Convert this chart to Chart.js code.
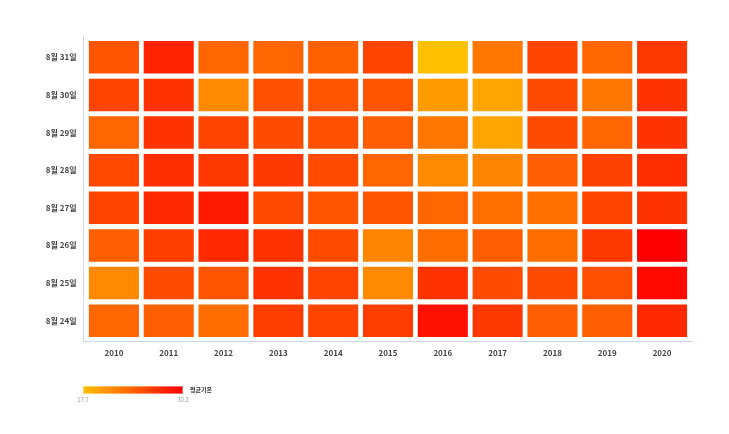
<!DOCTYPE html>
<html>
<head>
<meta charset="utf-8">
<script src="https://cdn.jsdelivr.net/npm/chart.js@4"></script>
<style>
html,body{margin:0;padding:0;background:#fff;}
#wrap{width:729px;height:434px;position:relative;}
</style>
</head>
<body>
<div id="wrap"><canvas id="c" width="729" height="434"></canvas></div>
<script>
const years = ['2010','2011','2012','2013','2014','2015','2016','2017','2018','2019','2020'];
const dates = ['8월 24일','8월 25일','8월 26일','8월 27일','8월 28일','8월 29일','8월 30일','8월 31일'];
const t0824 = [23.6, 24.0, 23.1, 26.2, 25.8, 26.2, 29.1, 26.6, 24.1, 24.0, 27.5];
const t0825 = [21.3, 25.3, 24.7, 26.9, 25.8, 21.3, 26.9, 25.3, 25.3, 25.0, 29.7];
const t0826 = [24.0, 26.2, 27.5, 26.9, 25.3, 21.6, 23.1, 24.1, 23.1, 26.6, 30.2];
const t0827 = [25.8, 27.5, 28.5, 25.5, 24.7, 24.7, 23.6, 22.9, 22.9, 25.8, 26.9];
const t0828 = [25.5, 27.3, 26.6, 26.6, 25.3, 23.6, 21.3, 21.6, 24.0, 26.0, 27.3];
const t0829 = [23.6, 26.9, 25.8, 25.3, 25.0, 24.1, 22.5, 19.5, 25.3, 23.6, 26.9];
const t0830 = [25.8, 26.9, 21.3, 25.0, 24.7, 24.7, 20.2, 19.5, 25.3, 22.5, 26.9];
const t0831 = [24.7, 28.0, 23.6, 23.6, 23.9, 25.8, 17.7, 22.5, 25.8, 23.6, 26.6];
const rows = [t0824, t0825, t0826, t0827, t0828, t0829, t0830, t0831];
const minT = 17.7, maxT = 30.2;
const legendTitle = '평균기온';

function tempColor(v){
  let t = (v - minT) / (maxT - minT);
  t = Math.max(0, Math.min(1, t));
  const g = Math.round(192 * (1 - t));
  return 'rgb(255,' + g + ',0)';
}

const inset = 0.04;
const datasets = rows.map((vals, i) => ({
  label: dates[i],
  data: vals.map(() => [i + inset, i + 1 - inset]),
  temps: vals,
  backgroundColor: vals.map(tempColor),
  borderColor: 'rgba(255,255,255,0.45)',
  borderWidth: 1,
  borderSkipped: false,
  grouped: false,
  barPercentage: 0.95,
  categoryPercentage: 1
}));

const FONT = "'Noto Sans CJK KR', 'Noto Sans', sans-serif";

const decor = {
  id: 'decor',
  afterDraw(chart){
    const ctx = chart.ctx;
    const a = chart.chartArea;
    ctx.save();
    ctx.strokeStyle = '#ccd6eb';
    ctx.lineWidth = 1;
    ctx.beginPath();
    ctx.moveTo(83.5, a.top - 2.5);
    ctx.lineTo(83.5, a.bottom + 2.5);
    ctx.moveTo(83, a.bottom + 2);
    ctx.lineTo(a.right + 3.5, a.bottom + 2);
    ctx.stroke();
    // color legend
    const lx = 83, ly = 386, lw = 100, lh = 8;
    const grad = ctx.createLinearGradient(lx, 0, lx + lw, 0);
    grad.addColorStop(0, tempColor(minT));
    grad.addColorStop(1, tempColor(maxT));
    ctx.fillStyle = grad;
    ctx.fillRect(lx, ly, lw, lh);
    ctx.strokeStyle = 'rgba(255,255,255,0.4)';
    ctx.strokeRect(lx + 0.5, ly + 0.5, lw - 1, lh - 1);
    ctx.fillStyle = '#333';
    ctx.font = 'bold 6px ' + FONT;
    ctx.textAlign = 'left';
    ctx.textBaseline = 'middle';
    ctx.fillText(legendTitle, lx + lw + 7, ly + lh / 2);
    ctx.fillStyle = '#999';
    ctx.font = '6px ' + FONT;
    ctx.textAlign = 'center';
    ctx.fillText(String(minT), lx, 399.5);
    ctx.fillText(String(maxT), lx + lw, 399.5);
    ctx.restore();
  }
};

new Chart(document.getElementById('c'), {
  type: 'bar',
  data: { labels: years, datasets: datasets },
  options: {
    responsive: false,
    animation: false,
    layout: { padding: { top: 38.5, right: 39.5, bottom: 64.5, left: 0 } },
    plugins: {
      legend: { display: false },
      tooltip: {
        callbacks: {
          label: (c) => c.dataset.label + ': ' + c.dataset.temps[c.dataIndex]
        }
      }
    },
    scales: {
      x: {
        type: 'category',
        grid: { display: false, drawTicks: false, tickLength: 0 },
        border: { display: false },
        ticks: { color: '#444', font: { family: FONT, size: 8, weight: 'bold' }, padding: 9, maxRotation: 0 },
        afterFit: (s) => { s.height = 30; }
      },
      y: {
        type: 'linear',
        min: 0,
        max: 8,
        grid: { display: false, drawTicks: false, tickLength: 0 },
        border: { display: false },
        afterBuildTicks: (s) => { s.ticks = dates.map((d, i) => ({ value: i + 0.5 })); },
        ticks: {
          color: '#444',
          font: { family: FONT, size: 8, weight: 'bold' },
          padding: 10,
          autoSkip: false,
          callback: (v) => dates[Math.floor(v)]
        },
        afterFit: (s) => { s.width = 86.5; }
      }
    }
  },
  plugins: [decor]
});
</script>
</body>
</html>
